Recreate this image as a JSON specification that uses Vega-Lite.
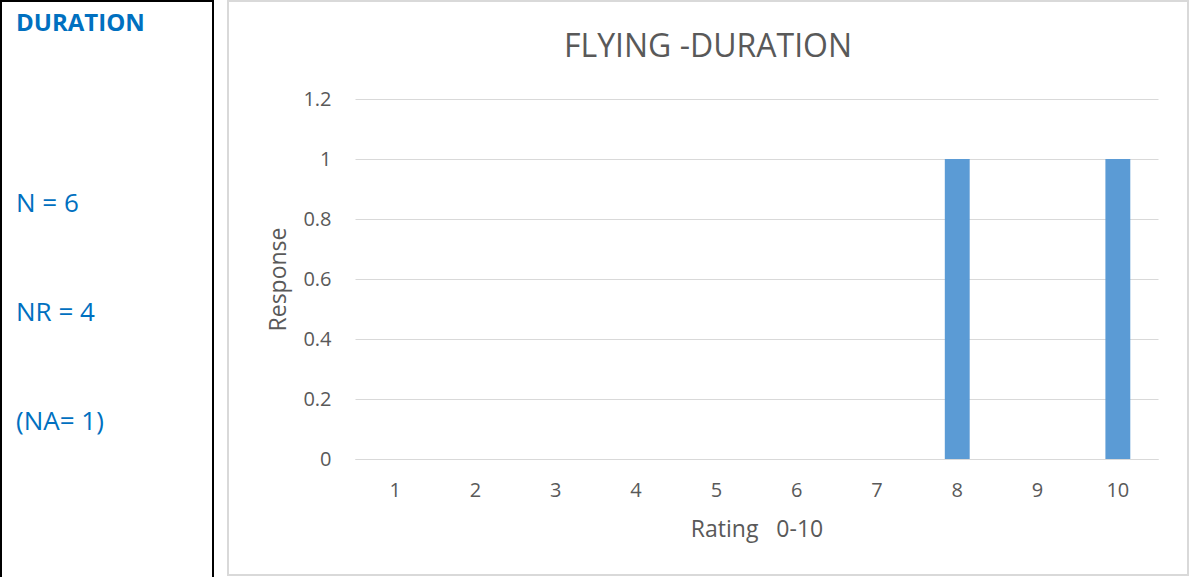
{
  "$schema": "https://vega.github.io/schema/vega-lite/v6.json",
  "padding": 0,
  "background": "white",
  "spacing": 13,
  "config": {"font": "Open Sans"},
  "hconcat": [
    {
      "width": 212,
      "height": 600,
      "view": {"stroke": "black", "strokeWidth": 2, "fill": "white"},
      "layer": [
        {
          "data": {"values": [{"text": "DURATION", "line": 0}]},
          "mark": {"type": "text", "align": "left", "baseline": "alphabetic", "color": "#0070c0", "fontSize": 24, "fontWeight": "bold"},
          "encoding": {
            "y": {"field": "line", "type": "quantitative", "scale": {"domain": [0, 11], "range": [29.5, 428.5]}, "axis": null},
            "x": {"datum": 0, "type": "quantitative", "scale": {"domain": [0, 1], "range": [15, 200]}, "axis": null},
            "text": {"field": "text"}
          }
        },
        {
          "data": {"values": [
            {"text": "N = 6", "line": 5},
            {"text": "NR = 4", "line": 8},
            {"text": "(NA= 1)", "line": 11}
          ]},
          "mark": {"type": "text", "align": "left", "baseline": "alphabetic", "color": "#0070c0", "fontSize": 26},
          "encoding": {
            "y": {"field": "line", "type": "quantitative", "axis": null},
            "x": {"datum": 0, "type": "quantitative", "axis": null},
            "text": {"field": "text"}
          }
        }
      ]
    },
    {
      "width": 960,
      "height": 574,
      "view": {"stroke": "#d9d9d9", "strokeWidth": 2},
      "title": {"text": "FLYING -DURATION", "fontSize": 32, "color": "#595959", "fontWeight": "normal", "anchor": "middle", "frame": "group", "baseline": "alphabetic", "offset": -88},
      "data": {"values": [
        {"rating": 1, "response": 0},
        {"rating": 2, "response": 0},
        {"rating": 3, "response": 0},
        {"rating": 4, "response": 0},
        {"rating": 5, "response": 0},
        {"rating": 6, "response": 0},
        {"rating": 7, "response": 0},
        {"rating": 8, "response": 1},
        {"rating": 9, "response": 0},
        {"rating": 10, "response": 1}
      ]},
      "mark": {"type": "bar", "color": "#5b9bd5"},
      "encoding": {
        "x": {
          "field": "rating", "type": "ordinal",
          "scale": {"range": [127, 930], "paddingInner": 0.69, "paddingOuter": 0.345},
          "axis": {"title": "Rating\u00a0\u00a0 0-10", "labelAngle": 0, "offset": -116, "domainColor": "#d9d9d9", "domainWidth": 1, "ticks": false, "tickSize": 0, "labelPadding": 21, "titlePadding": 18, "labelFontSize": 20, "labelColor": "#595959", "titleFontSize": 23, "titleColor": "#595959", "titleFontWeight": "normal"}
        },
        "y": {
          "field": "response", "type": "quantitative",
          "scale": {"domain": [0, 1.2], "range": [458, 98]},
          "axis": {"title": "Response", "values": [0, 0.2, 0.4, 0.6, 0.8, 1, 1.2], "format": "~g", "offset": -127, "domain": false, "ticks": false, "tickSize": 0, "labelPadding": 24, "titlePadding": 12, "gridColor": "#d9d9d9", "gridWidth": 1, "labelFontSize": 20, "labelColor": "#595959", "titleFontSize": 23, "titleColor": "#595959", "titleFontWeight": "normal"}
        }
      }
    }
  ]
}
